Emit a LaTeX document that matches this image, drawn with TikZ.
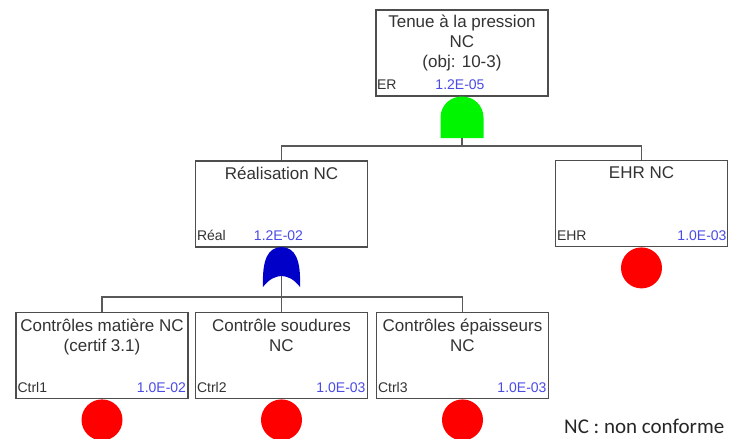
\documentclass[tikz,border=0pt]{standalone}
\usepackage{fontspec}
\setmainfont{Liberation Sans}
\newfontfamily\legendfont{Carlito}
\definecolor{txt}{HTML}{333333}
\definecolor{valc}{HTML}{4B4BE6}
\definecolor{boxc}{HTML}{4D4D4D}
\definecolor{wirec}{HTML}{595959}
\definecolor{andc}{HTML}{00F500}
\definecolor{orc}{HTML}{0000C8}
\definecolor{evc}{HTML}{FF0000}
\begin{document}
\begin{tikzpicture}[x=1pt,y=-1pt,
  evbox/.style={draw=boxc, line width=1.4pt, minimum width=172pt, minimum height=86pt, inner sep=0pt, fill=white},
  title/.style={anchor=north, inner sep=0pt, align=center, text=txt, font=\fontsize{17}{20}\selectfont},
  idl/.style={anchor=base west, inner sep=0pt, text=txt, font=\fontsize{14}{16}\selectfont},
  valr/.style={anchor=base east, inner sep=0pt, text=valc, font=\fontsize{14}{16}\selectfont},
  valm/.style={anchor=base, inner sep=0pt, text=valc, font=\fontsize{14}{16}\selectfont},
  basic/.style={circle, fill=evc, minimum size=41pt, inner sep=0pt, anchor=north},
  wire/.style={draw=wirec, line width=1.2pt}
]
\useasboundingbox (0,0) rectangle (729,439);

\coordinate (andout) at (462,138);
\coordinate (bus1) at (462,146);
\coordinate (orout) at (281.5,276);
\coordinate (bus2) at (281.5,297);

% boxes
\node[evbox] (top) at (462,53) {};
\node[evbox] (real) at (281.5,204) {};
\node[evbox] (ehr) at (641.5,203.5) {};
\node[evbox] (c1) at (102,355.5) {};
\node[evbox] (c2) at (281.5,355.5) {};
\node[evbox] (c3) at (462.5,355.5) {};

\draw[wire] (andout) -- (bus1);
\draw[wire] (real.north) |- (bus1);
\draw[wire] (ehr.north) |- (bus1);
\draw[wire] (c1.north) |- (bus2);
\draw[wire] (c3.north) |- (bus2);
\draw[wire] (c2.north) -- (bus2);

% titles
\node[title] (ttop) at ([yshift=-4pt]top.north) {\rule{0pt}{13.5pt}Tenue à la pression\\NC\\(obj: 10-3)};
\node[title] (treal) at ([yshift=-5pt]real.north) {\rule{0pt}{13.5pt}Réalisation NC};
\node[title] (tehr) at ([yshift=-5pt]ehr.north) {\rule{0pt}{13.5pt}EHR NC};
\node[title] (tc1) at ([yshift=-6pt]c1.north) {\rule{0pt}{13.5pt}Contrôles matière NC\\(certif 3.1)};
\node[title] (tc2) at ([yshift=-6pt]c2.north) {\rule{0pt}{13.5pt}Contrôle soudures\\NC};
\node[title] (tc3) at ([yshift=-6pt]c3.north) {\rule{0pt}{13.5pt}Contrôles épaisseurs\\NC};

% ids and values
\node[idl] (itop) at ([xshift=1.5pt,yshift=7pt]top.south west) {ER};
\node[valm] (vtop) at ([xshift=-2pt,yshift=7pt]top.south) {1.2E-05};
\node[idl] (ireal) at ([xshift=2pt,yshift=7pt]real.south west) {Réal};
\node[valm] (vreal) at ([xshift=-3pt,yshift=7pt]real.south) {1.2E-02};
\node[idl] (iehr) at ([xshift=2pt,yshift=7pt]ehr.south west) {EHR};
\node[valr] (vehr) at ([xshift=-1.5pt,yshift=7pt]ehr.south east) {1.0E-03};
\node[idl] (ic1) at ([xshift=2pt,yshift=7pt]c1.south west) {Ctrl1};
\node[valr] (vc1) at ([xshift=-2.5pt,yshift=7pt]c1.south east) {1.0E-02};
\node[idl] (ic2) at ([xshift=2pt,yshift=7pt]c2.south west) {Ctrl2};
\node[valr] (vc2) at ([xshift=-2.5pt,yshift=7pt]c2.south east) {1.0E-03};
\node[idl] (ic3) at ([xshift=2pt,yshift=7pt]c3.south west) {Ctrl3};
\node[valr] (vc3) at ([xshift=-2.5pt,yshift=7pt]c3.south east) {1.0E-03};

% gates
\fill[andc] (440.5,138) -- (440.5,117.5) .. controls (440.5,105.6) and (450.1,96.5) .. (462,96.5)
  .. controls (473.9,96.5) and (483.5,105.6) .. (483.5,117.5) -- (483.5,138) -- cycle;
\fill[orc] (263,287) .. controls (262,259) and (268,247.5) .. (281.5,247)
  .. controls (295,247.5) and (301,259) .. (300,287)
  .. controls (294,279) and (287,276) .. (281.5,276)
  .. controls (276,276) and (269,279) .. (263,287) -- cycle;
\draw[wire] (orout) -- (bus2);

% basic events
\node[basic] (eehr) at (ehr.south) {};
\node[basic] (ec1) at (c1.south) {};
\node[basic] (ec2) at (c2.south) {};
\node[basic] (ec3) at (c3.south) {};

% legend
\node[anchor=base west, inner sep=0pt, text=black!85, font=\legendfont\fontsize{21}{24}\selectfont] (legend) at (564,433) {NC : non conforme};
\end{tikzpicture}
\end{document}
